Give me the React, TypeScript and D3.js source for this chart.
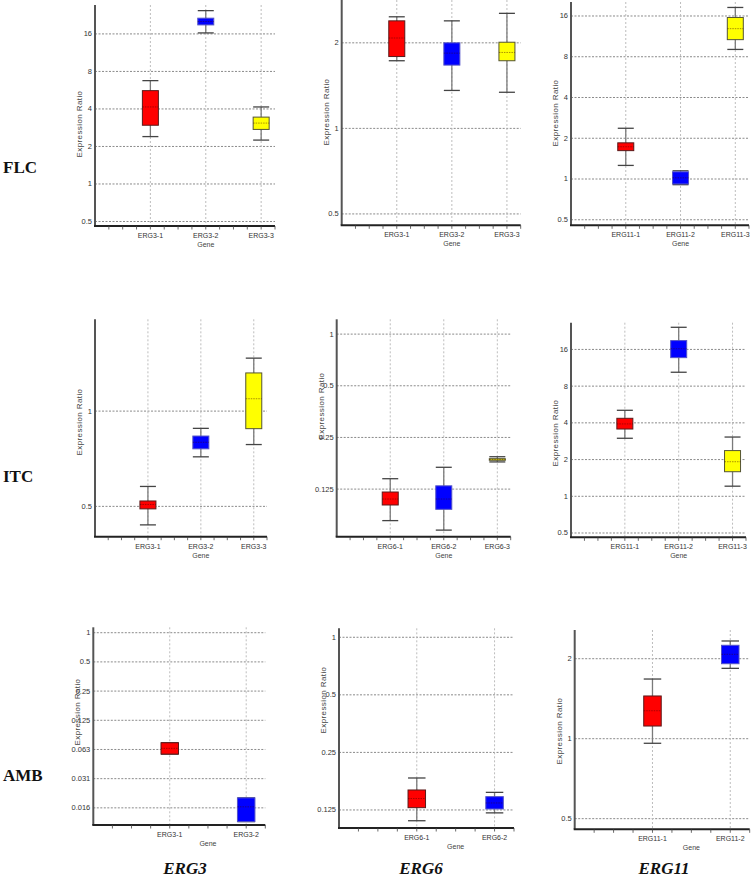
import React from "react";
import * as d3 from "d3";

// ---- data ----
const drugs = ["FLC", "ITC", "AMB"];
const genes = ["ERG3", "ERG6", "ERG11"];

const catsFlcErg3 = ["ERG3-1", "ERG3-2", "ERG3-3"];
const catsFlcErg6 = ["ERG3-1", "ERG3-2", "ERG3-3"];
const catsFlcErg11 = ["ERG11-1", "ERG11-2", "ERG11-3"];
const catsItcErg3 = ["ERG3-1", "ERG3-2", "ERG3-3"];
const catsItcErg6 = ["ERG6-1", "ERG6-2", "ERG6-3"];
const catsItcErg11 = ["ERG11-1", "ERG11-2", "ERG11-3"];
const catsAmbErg3 = ["ERG3-1", "ERG3-2"];
const catsAmbErg6 = ["ERG6-1", "ERG6-2"];
const catsAmbErg11 = ["ERG11-1", "ERG11-2"];

// [whisker low, q1, median, q3, whisker high]
const flcErg3 = [[2.40, 2.96, 4.15, 5.61, 6.75], [16.3, 18.9, 20.1, 21.4, 24.6], [2.25, 2.74, 3.08, 3.44, 4.15]];
const flcErg6 = [[1.73, 1.79, 2.08, 2.39, 2.47], [1.36, 1.67, 1.84, 2.0, 2.39], [1.34, 1.73, 1.85, 2.01, 2.54]];
const flcErg11 = [[1.26, 1.62, 1.73, 1.85, 2.37], [0.908, 0.919, 1.02, 1.13, 1.15], [9.06, 10.7, 12.9, 15.6, 18.5]];
const itcErg3 = [[0.437, 0.491, 0.507, 0.52, 0.578], [0.717, 0.76, 0.797, 0.834, 0.882], [0.784, 0.88, 1.094, 1.32, 1.47]];
const itcErg6 = [[0.0819, 0.101, 0.1094, 0.1202, 0.1437], [0.0721, 0.0953, 0.1094, 0.1306, 0.1675], [0.18, 0.184, 0.186, 0.188, 0.193]];
const itcErg11 = [[2.99, 3.56, 3.92, 4.36, 5.07], [10.4, 13.7, 16.2, 18.9, 24.3], [1.21, 1.59, 1.92, 2.37, 3.06]];
const ambErg3 = [[0.056, 0.056, 0.0642, 0.0733, 0.0733], [0.01127, 0.01127, 0.016, 0.0198, 0.0198]];
const ambErg6 = [[0.1098, 0.1285, 0.1434, 0.159, 0.1837], [0.1207, 0.1265, 0.136, 0.1467, 0.1545]];
const ambErg11 = [[0.961, 1.116, 1.274, 1.448, 1.677], [1.84, 1.915, 2.078, 2.247, 2.332]];

// y domains (log2 scale)
const domFlcErg3 = [0.46, 27.3];
const domFlcErg6 = [0.456, 2.83];
const domFlcErg11 = [0.455, 20.3];
const domItcErg3 = [0.401, 1.95];
const domItcErg6 = [0.066, 1.22];
const domItcErg11 = [0.461, 26.5];
const domAmbErg3 = [0.0104, 1.137];
const domAmbErg6 = [0.1006, 1.114];
const domAmbErg11 = [0.456, 2.565];

// tick values & labels
const ticks0p5to16 = [0.5, 1, 2, 4, 8, 16];
const labels0p5to16 = ["0.5", "1", "2", "4", "8", "16"];
const ticks0p5to2 = [0.5, 1, 2];
const labels0p5to2 = ["0.5", "1", "2"];
const ticks0p5to1 = [0.5, 1];
const labels0p5to1 = ["0.5", "1"];
const ticks0125to1 = [0.125, 0.25, 0.5, 1];
const labels0125to1 = ["0.125", "0.25", "0.5", "1"];
const ticksAmb3 = [0.015625, 0.03125, 0.0625, 0.125, 0.25, 0.5, 1];
const labelsAmb3 = ["0.016", "0.031", "0.063", "0.125", "0.25", "0.5", "1"];

const boxColors = ["#ff0000", "#0000ff", "#ffff00"];
const boxStrokes = ["#5a1a1a", "#5252c8", "#555533"];

// ---- layout (positions only) ----
type Panel = {
  x0: number; top: number; bottom: number; width: number; titleY: number;
  cats: string[]; stats: number[][]; dom: number[]; ticks: number[]; labels: string[]; bw: number;
};

const panels: Panel[] = [
  { x0: 95, top: 5, bottom: 226, width: 180, titleY: 124, cats: catsFlcErg3, stats: flcErg3, dom: domFlcErg3, ticks: ticks0p5to16, labels: labels0p5to16, bw: 16 },
  { x0: 341.7, top: 0, bottom: 225.3, width: 179, titleY: 112, cats: catsFlcErg6, stats: flcErg6, dom: domFlcErg6, ticks: ticks0p5to2, labels: labels0p5to2, bw: 16 },
  { x0: 571, top: 2, bottom: 225.3, width: 178, titleY: 113, cats: catsFlcErg11, stats: flcErg11, dom: domFlcErg11, ticks: ticks0p5to16, labels: labels0p5to16, bw: 16 },
  { x0: 95, top: 319.3, bottom: 536.7, width: 172, titleY: 422, cats: catsItcErg3, stats: itcErg3, dom: domItcErg3, ticks: ticks0p5to1, labels: labels0p5to1, bw: 16 },
  { x0: 336.7, top: 319.3, bottom: 536.7, width: 174, titleY: 406, cats: catsItcErg6, stats: itcErg6, dom: domItcErg6, ticks: ticks0125to1, labels: labels0125to1, bw: 16 },
  { x0: 571, top: 322.7, bottom: 537.3, width: 175, titleY: 433, cats: catsItcErg11, stats: itcErg11, dom: domItcErg11, ticks: ticks0p5to16, labels: labels0p5to16, bw: 16 },
  { x0: 93.3, top: 627.3, bottom: 825, width: 172, titleY: 712, cats: catsAmbErg3, stats: ambErg3, dom: domAmbErg3, ticks: ticksAmb3, labels: labelsAmb3, bw: 17.5 },
  { x0: 339, top: 628.3, bottom: 828, width: 175, titleY: 700, cats: catsAmbErg6, stats: ambErg6, dom: domAmbErg6, ticks: ticks0125to1, labels: labels0125to1, bw: 17.5 },
  { x0: 574.7, top: 630, bottom: 829.3, width: 175, titleY: 731, cats: catsAmbErg11, stats: ambErg11, dom: domAmbErg11, ticks: ticks0p5to2, labels: labels0p5to2, bw: 17.5 },
];

const drugLabelY = [173, 482, 781];
const geneLabelX = [185, 421, 664];

const small = "'Liberation Sans Narrow', 'Arial Narrow', 'Liberation Sans', sans-serif";

function BoxPanel({ p }: { p: Panel }) {
  const n = p.cats.length;
  const x = d3.scaleLinear().domain([0, n + 0.25]).range([p.x0, p.x0 + p.width]);
  const y = d3.scaleLog().base(2).domain(p.dom).range([p.bottom, p.top]);
  const minor = d3.range(1, Math.floor((n + 0.25) * 4) + 1).map((k) => k / 4);
  const mid = (1 + n) / 2;
  return (
    <g>
      {/* horizontal grid */}
      {p.ticks.map((t, i) => (
        <line key={"hg" + i} x1={p.x0} x2={p.x0 + p.width} y1={y(t)} y2={y(t)}
          stroke="#8a8a8a" strokeWidth={1} strokeDasharray="2,1.5" />
      ))}
      {/* vertical grid */}
      {p.cats.map((c, i) => (
        <line key={"vg" + i} x1={x(i + 1)} x2={x(i + 1)} y1={p.top} y2={p.bottom}
          stroke="#bdbdbd" strokeWidth={1} strokeDasharray="2,2" />
      ))}
      {/* boxes */}
      {p.stats.map((s, i) => {
        const cx = x(i + 1);
        const [lo, q1, med, q3, hi] = s;
        const hw = p.bw / 2;
        return (
          <g key={"b" + i}>
            <line x1={cx} x2={cx} y1={y(lo)} y2={y(hi)} stroke="#7a7a7a" strokeWidth={1.3} />
            <line x1={cx - hw} x2={cx + hw} y1={y(hi)} y2={y(hi)} stroke="#444" strokeWidth={1.3} />
            <line x1={cx - hw} x2={cx + hw} y1={y(lo)} y2={y(lo)} stroke="#444" strokeWidth={1.3} />
            <rect x={cx - hw} width={p.bw} y={y(q3)} height={Math.max(0.8, y(q1) - y(q3))}
              fill={boxColors[i]} stroke={boxStrokes[i]} strokeWidth={1} />
            <line x1={cx - hw} x2={cx + hw} y1={y(med)} y2={y(med)} stroke="rgba(60,0,0,0.55)"
              strokeWidth={0.8} strokeDasharray="1.5,1" />
          </g>
        );
      })}
      {/* y axis */}
      <line x1={p.x0} x2={p.x0} y1={p.top} y2={p.bottom} stroke="#555" strokeWidth={2} />
      {p.ticks.map((t, i) => (
        <text key={"yl" + i} x={p.x0 - 3} y={y(t)} dy="0.33em" textAnchor="end"
          fontFamily={small} fontSize={7.5} fill="#333">{p.labels[i]}</text>
      ))}
      <text transform={`translate(${p.x0 - 13},${p.titleY}) rotate(-90)`} textAnchor="middle"
        fontFamily={small} fontSize={8} fill="#444" letterSpacing={0.4}>Expression Ratio</text>
      {/* x axis */}
      <line x1={p.x0 - 1} x2={p.x0 + p.width} y1={p.bottom} y2={p.bottom} stroke="#222" strokeWidth={2} />
      {minor.map((m, i) => (
        <line key={"mt" + i} x1={x(m)} x2={x(m)} y1={p.bottom} y2={p.bottom + 3.5} stroke="#444" strokeWidth={0.8} />
      ))}
      {p.cats.map((c, i) => (
        <text key={"xl" + i} x={x(i + 1)} y={p.bottom + 12} textAnchor="middle"
          fontFamily={small} fontSize={7} fill="#333">{c}</text>
      ))}
      <text x={x(mid)} y={p.bottom + 21} textAnchor="middle" fontFamily={small} fontSize={7} fill="#444">Gene</text>
    </g>
  );
}

export default function App() {
  return (
    <svg width={751} height={878} style={{ position: "absolute", left: 0, top: 0, background: "#fff" }}>
      <rect width={751} height={878} fill="#fff" />
      {panels.map((p, i) => <BoxPanel key={i} p={p} />)}
      {drugs.map((d, i) => (
        <text key={d} x={3} y={drugLabelY[i]} fontFamily="'Liberation Serif', 'Times New Roman', serif"
          fontWeight="bold" fontSize={17} fill="#111">{d}</text>
      ))}
      {genes.map((g, i) => (
        <text key={g} x={geneLabelX[i]} y={874} textAnchor="middle" fontFamily="'Liberation Serif', 'Times New Roman', serif"
          fontWeight="bold" fontStyle="italic" fontSize={17} fill="#111">{g}</text>
      ))}
    </svg>
  );
}
